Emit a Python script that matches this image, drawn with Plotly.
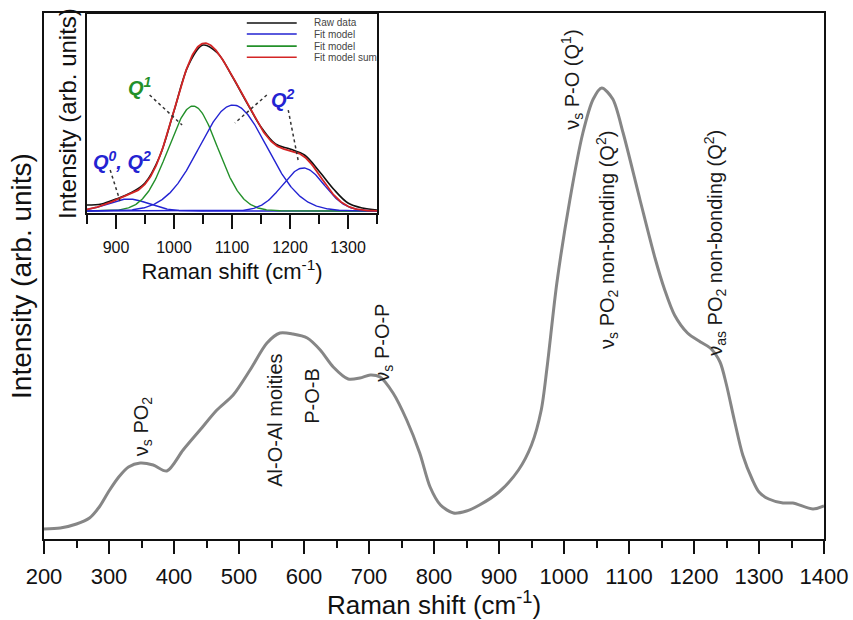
import plotly.graph_objects as go
import numpy as np

# ---- main Raman spectrum ----
raman_shift = [200, 225, 250, 270, 285, 300, 315, 330, 348, 368, 389, 414, 440, 466, 491,
               517, 543, 563, 583, 605, 625, 645, 668, 686, 702, 717, 737, 758, 778,
               794, 810, 830, 850, 870, 900, 930, 950, 965, 974, 989, 1009, 1029, 1045,
               1058, 1075, 1091, 1117, 1140, 1155, 1170, 1190, 1210, 1225, 1240, 1250,
               1262, 1275, 1290, 1300, 1315, 1337, 1352, 1383, 1400]
intensity = [10, 11, 15, 21, 32, 48, 62, 72, 76, 74, 68, 89, 109, 129, 144,
             169, 196, 206, 205, 201, 189, 172, 160, 161, 164, 162, 146, 119, 86,
             52, 34, 26, 28, 34, 47, 69, 94, 129, 172, 256, 339, 406, 440,
             451, 440, 406, 339, 281, 249, 224, 206, 197, 191, 177, 154,
             119, 84, 59, 47, 40, 36, 36, 30, 33]

# band assignments (label, position, height)
band_labels = ["ν<sub>s</sub> PO<sub>2</sub>", "Al-O-Al moities", "P-O-B",
               "ν<sub>s</sub> P-O-P", "ν<sub>s</sub> P-O (Q<sup>1</sup>)",
               "ν<sub>s</sub> PO<sub>2</sub> non-bonding (Q<sup>2</sup>)",
               "ν<sub>as</sub> PO<sub>2</sub> non-bonding (Q<sup>2</sup>)"]
band_x = [351, 555, 612, 721, 1012, 1066, 1232]
band_y = [112, 119, 143, 196, 459, 299, 296]

# ---- inset: deconvolution of the 850-1350 cm-1 region ----
raw_x = [850, 875, 900, 925, 950, 975, 1000, 1025, 1050, 1075, 1100, 1125, 1150,
         1175, 1200, 1225, 1250, 1275, 1300, 1325, 1350]
raw_y = [6, 7, 12, 18, 28, 54, 100, 146, 166, 158, 135, 109, 84,
         67, 62, 56, 40, 22, 8, 3, 1]

# Gaussian fit components: centre, amplitude, sigma
fit_names = ["Q0, Q2", "Q1", "Q2", "Q2 (as)"]
fit_center = [921, 1033, 1102, 1223]
fit_amp = [12, 105, 106, 43]
fit_sigma = [35, 42, 58, 36]
fit_colors = ["#2323d2", "#23902a", "#2323d2", "#2323d2"]

FONT = "Liberation Sans, Arial, sans-serif"

xs = np.linspace(850, 1350, 401)
components = [a * np.exp(-(xs - c) ** 2 / (2 * s ** 2))
              for c, a, s in zip(fit_center, fit_amp, fit_sigma)]
fit_sum = np.sum(components, axis=0)

fig = go.Figure()

fig.add_trace(go.Scatter(x=raman_shift, y=intensity, mode="lines",
                         line=dict(color="#868686", width=3, shape="spline", smoothing=0.8),
                         showlegend=False, xaxis="x", yaxis="y"))

fig.add_trace(go.Scatter(x=raw_x, y=raw_y, mode="lines", name="Raw data",
                         line=dict(color="#111111", width=1.6, shape="spline"),
                         showlegend=False, xaxis="x2", yaxis="y2"))
for comp, col in zip(components, fit_colors):
    fig.add_trace(go.Scatter(x=xs, y=comp, mode="lines", name="Fit model",
                             line=dict(color=col, width=1.4),
                             showlegend=False, xaxis="x2", yaxis="y2"))
fig.add_trace(go.Scatter(x=xs, y=fit_sum, mode="lines", name="Fit model sum",
                         line=dict(color="#d42525", width=1.8),
                         showlegend=False, xaxis="x2", yaxis="y2"))

annotations = []
for txt, bx, by in zip(band_labels, band_x, band_y):
    annotations.append(dict(x=bx, y=by, xref="x", yref="y", text=txt, textangle=-90,
                            showarrow=False, xanchor="center", yanchor="middle",
                            font=dict(family=FONT, size=20, color="#1a1a1a")))

# inset peak labels
q_labels = [("<b><i>Q<sup>1</sup></i></b>", 941, 125, "#23902a"),
            ("<b><i>Q<sup>2</sup></i></b>", 1188, 113, "#2323d2"),
            ("<b><i>Q<sup>0</sup>, Q<sup>2</sup></i></b>", 910, 51, "#2323d2")]
for txt, qx, qy, col in q_labels:
    annotations.append(dict(x=qx, y=qy, xref="x2", yref="y2", text=txt, showarrow=False,
                            xanchor="center", yanchor="middle",
                            font=dict(family=FONT, size=20, color=col)))

# dotted leader lines in the inset
leaders = [(958, 116, 1014, 86), (1160, 116, 1105, 88),
           (1197, 101, 1214, 51), (890, 41, 907, 10)]
shapes = []
for x0, y0, x1, y1 in leaders:
    shapes.append(dict(type="line", xref="x2", yref="y2", x0=x0, y0=y0, x1=x1, y1=y1,
                       line=dict(color="#333333", width=1.5, dash="dot")))

# inset legend
legend_entries = [("Raw data", "#111111"), ("Fit model", "#2323d2"),
                  ("Fit model", "#23902a"), ("Fit model sum", "#d42525")]
row_y = [0.981, 0.960, 0.937, 0.916]
for (lab, col), ry in zip(legend_entries, row_y):
    shapes.append(dict(type="line", xref="paper", yref="paper", x0=0.260, x1=0.324,
                       y0=ry, y1=ry, line=dict(color=col, width=1.6)))
    annotations.append(dict(x=0.344, y=ry, xref="paper", yref="paper", text=lab,
                            showarrow=False, xanchor="left", yanchor="middle",
                            font=dict(family=FONT, size=10, color="#444444")))

axis_common = dict(showgrid=False, zeroline=False, showline=True, linecolor="#111111",
                   mirror=True, automargin=False)

fig.update_layout(
    width=853, height=620,
    margin=dict(l=44, r=29, t=13, b=81),
    paper_bgcolor="white", plot_bgcolor="white",
    font=dict(family=FONT, color="#111111"),
    showlegend=False,
    xaxis=dict(domain=[0, 1], range=[200, 1400], anchor="y",
               tickmode="array", tickvals=list(range(200, 1401, 100)),
               ticks="outside", ticklen=13, tickwidth=1.5, tickcolor="#111111",
               minor=dict(dtick=50, tick0=200, ticks="outside", ticklen=7,
                          tickwidth=1.5, tickcolor="#111111"),
               tickfont=dict(size=22, family=FONT, color="#111111"),
               ticklabelstandoff=4, linewidth=1.5,
               title=dict(text="Raman shift (cm<sup>-1</sup>)", standoff=1,
                          font=dict(size=26, family=FONT, color="#111111")),
               **axis_common),
    yaxis=dict(domain=[0, 1], range=[0, 526], anchor="x",
               showticklabels=False, ticks="", linewidth=1.5,
               title=dict(text="Intensity (arb. units)", standoff=2,
                          font=dict(size=28, family=FONT, color="#111111")),
               **axis_common),
    xaxis2=dict(domain=[0.0551, 0.4269], range=[850, 1350], anchor="y2",
                tickmode="array", tickvals=[900, 1000, 1100, 1200, 1300],
                ticks="outside", ticklen=14, tickwidth=1.5, tickcolor="#111111",
                minor=dict(dtick=50, tick0=850, ticks="outside", ticklen=9,
                           tickwidth=1.5, tickcolor="#111111"),
                tickfont=dict(size=16, family=FONT, color="#111111"),
                ticklabelstandoff=5, linewidth=1.5,
                title=dict(text="Raman shift (cm<sup>-1</sup>)", standoff=2,
                           font=dict(size=22, family=FONT, color="#111111")),
                **axis_common),
    yaxis2=dict(domain=[0.6198, 0.998], range=[-2, 197], anchor="x2",
                showticklabels=False, ticks="", linewidth=1.5,
                title=dict(text="Intensity (arb. units)", standoff=2,
                           font=dict(size=24, family=FONT, color="#111111")),
                **axis_common),
    annotations=annotations,
    shapes=shapes,
)

fig.write_html("out.html")
